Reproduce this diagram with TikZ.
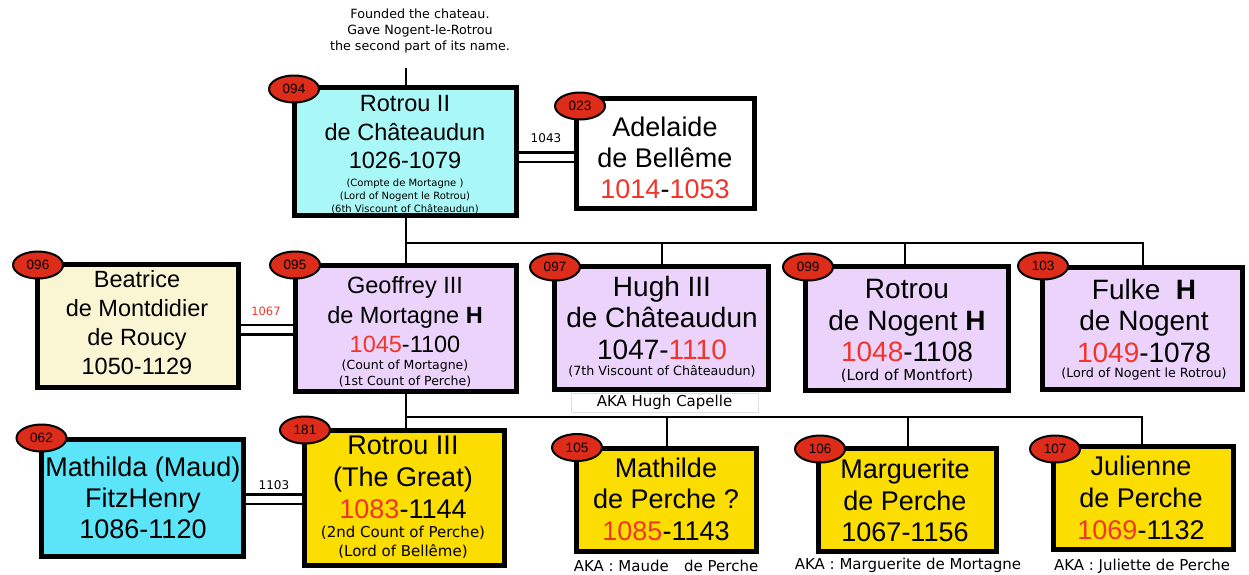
\documentclass[tikz,border=0pt]{standalone}
\usepackage{fontspec}
\setmainfont{Liberation Sans}
\newfontfamily\notefont{DejaVu Sans}
\usetikzlibrary{shapes.geometric,backgrounds}

\definecolor{paleaqua}{HTML}{AAF7F7}
\definecolor{cream}{HTML}{FAF5D2}
\definecolor{lavender}{HTML}{EBD3FB}
\definecolor{brightaqua}{HTML}{5CE5F8}
\definecolor{gold}{HTML}{FBDD00}
\definecolor{badgered}{HTML}{DE2C1A}
\definecolor{datered}{HTML}{F2352A}

\newcommand{\rd}[1]{{\color{datered}#1}}

\begin{document}
\begin{tikzpicture}[x=1pt,y=-1pt,
  box/.style={draw, line width=5pt, inner sep=0pt, outer sep=0pt},
  badge/.style={ellipse, draw, line width=2pt, fill=badgered, minimum width=50pt,
    minimum height=27pt, inner sep=0pt, font=\fontsize{13.5}{13.5}\selectfont},
  link/.style={line width=2pt},
  marriage/.style={double, line width=2.5pt, double distance=7pt},
  txt/.style={align=center, inner sep=0pt},
  note/.style={align=center, inner sep=0pt},
  aka/.style={inner sep=0pt, font=\notefont\fontsize{15}{15}\selectfont}]
\useasboundingbox (0,0) rectangle (1249,574);

% ---------- generation 1 ----------
\node[box, fill=paleaqua, minimum width=222pt, minimum height=128pt] (r2) at (405.5,151.5) {};
\node[box, fill=white, minimum width=178pt, minimum height=110pt] (adelaide) at (665.5,153.5) {};

% ---------- generation 2 ----------
\node[box, fill=cream, minimum width=201pt, minimum height=123pt] (beatrice) at (137.5,326) {};
\node[box, fill=lavender, minimum width=221pt, minimum height=126pt] (geoffrey) at (406,328.5) {};
\node[box, fill=lavender, minimum width=214pt, minimum height=123pt] (hugh) at (661.5,328) {};
\node[box, fill=lavender, minimum width=203pt, minimum height=124pt] (rnogent) at (907,328.5) {};
\node[box, fill=lavender, minimum width=200pt, minimum height=122pt] (fulke) at (1142.5,328.5) {};

% ---------- generation 3 ----------
\node[box, fill=brightaqua, minimum width=202pt, minimum height=117pt] (mathilda) at (142.5,498) {};
\node[box, fill=gold, minimum width=200pt, minimum height=135pt] (r3) at (404.5,498) {};
\node[box, fill=gold, minimum width=180pt, minimum height=103pt] (mathilde) at (666.5,500) {};
\node[box, fill=gold, minimum width=178pt, minimum height=103pt] (marguerite) at (907.5,500) {};
\node[box, fill=gold, minimum width=180pt, minimum height=103pt] (julienne) at (1143.5,498) {};

% ---------- descent lines and marriages, behind the boxes ----------
\coordinate (stub) at (405.5,68);
\coordinate (bus1) at (405.5,243);
\coordinate (bus2) at (405.5,417);
\begin{scope}[on background layer]
  \draw[link] (stub) -- (r2.north);
  \draw[link] (r2.south) -- (bus1) -- (bus1 |- geoffrey.north);
  \draw[link] (bus1) -| (fulke.north);
  \draw[link] (hugh.north) |- (bus1);
  \draw[link] ([xshift=-2pt]rnogent.north) |- (bus1);
  \draw[link] (geoffrey.south -| bus2) -- (bus2) -- (bus2 |- r3.north);
  \draw[link] (bus2) -| ([xshift=-1.5pt]julienne.north);
  \draw[link] (mathilde.north) |- (bus2);
  \draw[link] (marguerite.north) |- (bus2);
  \draw[marriage] ([yshift=-5.5pt]r2.east) -- ([yshift=-5.5pt]r2.east -| adelaide.west);
  \draw[marriage] ([yshift=-1pt]geoffrey.west) -- ([yshift=-1pt]geoffrey.west -| beatrice.east);
  \draw[marriage] ([yshift=-1pt]r3.west) -- ([yshift=-1pt]r3.west -| mathilda.east);
\end{scope}
\node[note, font=\notefont\fontsize{12}{12}\selectfont] (d1043) at (546,138.5) {1043};
\node[note, font=\notefont\fontsize{11.5}{12}\selectfont, text=datered] (d1067) at (266,311) {1067};
\node[note, font=\notefont\fontsize{12}{12}\selectfont] (d1103) at (274,485) {1103};

% ---------- texts ----------
\node[note, font=\notefont\fontsize{12.7}{16}\selectfont] (founded) at (420,31)
  {Founded the chateau.\\Gave Nogent-le-Rotrou\\the second part of its name.};

\node[txt, font=\fontsize{23.5}{28.5}\selectfont] (r2name) at (405,132.5)
  {Rotrou II\\de Châteaudun\\1026-1079};
\node[note, font=\notefont\fontsize{10}{13}\selectfont] (r2note) at (405,196)
  {(Compte de Mortagne )\\(Lord of Nogent le Rotrou)\\(6th Viscount of Châteaudun)};

\node[txt, font=\fontsize{27}{31}\selectfont] (adename) at (665,158)
  {Adelaide\\de Bellême\\\rd{1014}-\rd{1053}};

\node[txt, font=\fontsize{23.5}{29}\selectfont] (beaname) at (137,323)
  {Beatrice\\de Montdidier\\de Roucy\\1050-1129};

\node[txt, font=\fontsize{23.5}{29.5}\selectfont] (geoname) at (405,315)
  {Geoffrey III\\de Mortagne \textbf{H}\\\rd{1045}-1100};
\node[note, font=\notefont\fontsize{12.5}{16}\selectfont] (geonote) at (405,374)
  {(Count of Mortagne)\\(1st Count of Perche)};

\node[txt, font=\fontsize{28}{31.5}\selectfont] (hughname) at (662,317.5)
  {Hugh III\\de Châteaudun\\1047-\rd{1110}};
\node[note, font=\notefont\fontsize{12.7}{16}\selectfont] (hughnote) at (662,371)
  {(7th Viscount of Châteaudun)};

\node[txt, font=\fontsize{28}{31.5}\selectfont] (rnname) at (907,320.5)
  {Rotrou\\de Nogent \textbf{H}\\\rd{1048}-1108};
\node[note, font=\notefont\fontsize{15}{16}\selectfont] (rnnote) at (907,375.5)
  {(Lord of Montfort)};

\node[txt, font=\fontsize{28}{31.5}\selectfont] (fulkename) at (1144,320.5)
  {Fulke\ \ \textbf{H}\\de Nogent\\\rd{1049}-1078};
\node[note, font=\notefont\fontsize{12.7}{16}\selectfont] (fulkenote) at (1144,374)
  {(Lord of Nogent le Rotrou)};

\node[draw=gray!25, line width=0.8pt, fill=white, minimum width=187pt, minimum height=19pt,
  inner sep=0pt, font=\notefont\fontsize{15}{15}\selectfont] (hughaka) at (664.5,402.5)
  {AKA Hugh Capelle};

\node[txt, font=\fontsize{27}{31}\selectfont] (mathname) at (143,497.5)
  {Mathilda (Maud)\\FitzHenry\\1086-1120};

\node[txt, font=\fontsize{27}{32}\selectfont] (r3name) at (403,477.8)
  {Rotrou III\\(The Great)\\\rd{1083}-1144};
\node[note, font=\notefont\fontsize{15}{18.5}\selectfont] (r3note) at (403,542.3)
  {(2nd Count of Perche)\\(Lord of Bellême)};

\node[txt, font=\fontsize{27}{31.5}\selectfont] (mathildename) at (666,499)
  {Mathilde\\de Perche ?\\\rd{1085}-1143};
\node[txt, font=\fontsize{27}{31.5}\selectfont] (margname) at (905,500.5)
  {Marguerite\\de Perche\\1067-1156};
\node[txt, font=\fontsize{27}{32}\selectfont] (julname) at (1141,497.8)
  {Julienne\\de Perche\\\rd{1069}-1132};

\node[aka] (akamaude) at (666,566) {AKA : Maude\hspace{0.7em} de Perche};
\node[aka] (akamarg) at (908,565) {AKA : Marguerite de Mortagne};
\node[aka] (akajul) at (1142,566) {AKA : Juliette de Perche};

% ---------- reference numbers ----------
\node[badge] (n094) at (294,89) {094};
\node[badge] (n023) at (580,106) {023};
\node[badge] (n096) at (38,265) {096};
\node[badge] (n095) at (295,265) {095};
\node[badge] (n097) at (555,267) {097};
\node[badge] (n099) at (808,267) {099};
\node[badge] (n103) at (1043,266) {103};
\node[badge] (n062) at (41.5,438) {062};
\node[badge] (n181) at (305,430) {181};
\node[badge] (n105) at (577,447.5) {105};
\node[badge] (n106) at (820,449) {106};
\node[badge] (n107) at (1055,449) {107};
\end{tikzpicture}
\end{document}
